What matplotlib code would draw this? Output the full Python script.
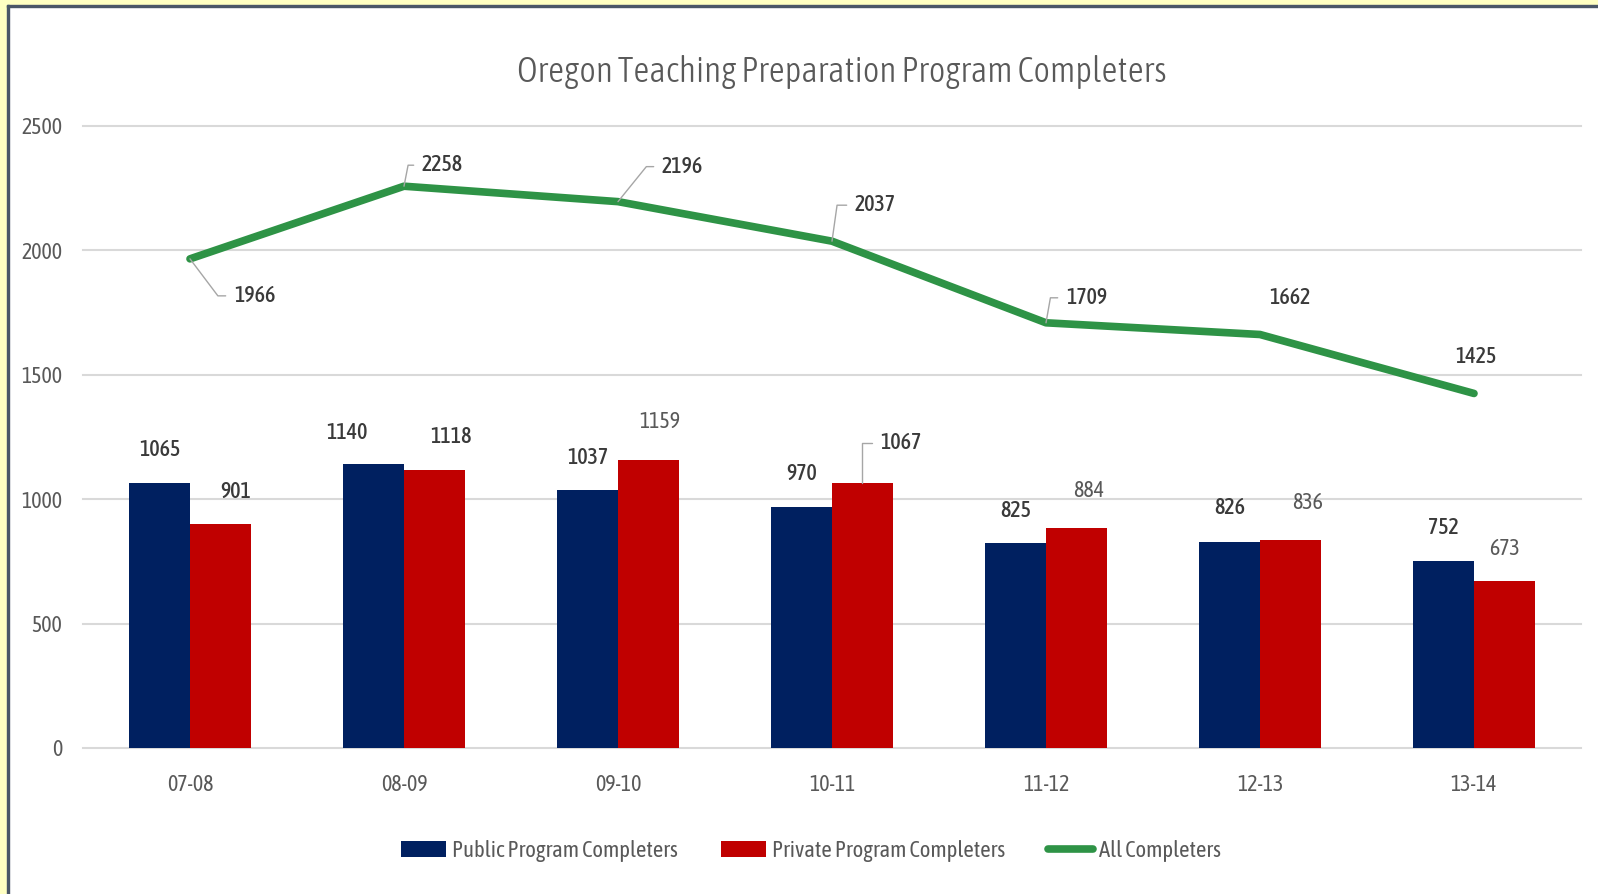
import numpy as np
import matplotlib.pyplot as plt
from matplotlib.patches import Rectangle

years = ['07-08', '08-09', '09-10', '10-11', '11-12', '12-13', '13-14']
public = [1065, 1140, 1037, 970, 825, 826, 752]
private = [901, 1118, 1159, 1067, 884, 836, 673]
all_completers = [1966, 2258, 2196, 2037, 1709, 1662, 1425]
title = 'Oregon Teaching Preparation Program Completers'

plt.rcParams['font.family'] = ['Asap Condensed', 'Carlito', 'DejaVu Sans']

BLUE = '#002060'
RED = '#C00000'
GREEN = '#2E9346'
GRID = '#D9D9D9'
TXT = '#3A3A3A'
TICK = '#595959'
LEADER = '#A6A6A6'

W, H = 1598, 894
fig = plt.figure(figsize=(W / 100, H / 100), dpi=100)
renderer = fig.canvas.get_renderer()


def fit_size(s, width_px, **kw):
    # font size that makes s about width_px wide
    t = fig.text(0, 0, s, fontsize=20, **kw)
    w = t.get_window_extent(renderer).width
    t.remove()
    return 20 * width_px / w


fs = fit_size('2500', 41)
fs_title = fit_size(title, 649, weight=300)
fs_leg = fit_size('Public Program Completers', 226)

ax = fig.add_axes([83 / W, 1 - 748 / H, (1581 - 83) / W, (748 - 126) / H])

x = np.arange(len(years))
bw = 0.285
b1 = ax.bar(x - bw / 2, public, bw, color=BLUE, label='Public Program Completers', zorder=2)
b2 = ax.bar(x + bw / 2, private, bw, color=RED, label='Private Program Completers', zorder=2)
ln, = ax.plot(x, all_completers, color=GREEN, lw=5.5, solid_capstyle='round',
              solid_joinstyle='round', label='All Completers', zorder=3)

# label offsets in pixels (dx, dy to label centre), hand placed
pub_off = [(0, 33), (-27, 31), (0, 32), (0, 33), (0, 32), (0, 34), (0, 33)]
prv_off = [(15, 32), (16, 33), (11, 38), None, (12, 37), (17, 37), (0, 32)]
prv_col = [TXT, TXT, TICK, TXT, TICK, TICK, TICK]

for i, v in enumerate(public):
    dx, dy = pub_off[i]
    ax.annotate(str(v), (x[i] - bw / 2, v), xytext=(dx, dy), textcoords='offset pixels',
                ha='center', va='center', fontsize=fs, color=TXT, weight=500)

for i, v in enumerate(private):
    if prv_off[i] is None:
        # sits off to the right with a leader line
        ax.annotate(str(v), (x[i] + bw / 2, v), xytext=(18, 40), textcoords='offset pixels',
                    ha='left', va='center', fontsize=fs, color=TXT, weight=500,
                    arrowprops=dict(arrowstyle='-', color=LEADER, lw=1, shrinkA=4, shrinkB=0,
                                    relpos=(0, 0.5),
                                    connectionstyle='angle,angleA=0,angleB=90,rad=0'))
        continue
    dx, dy = prv_off[i]
    ax.annotate(str(v), (x[i] + bw / 2, v), xytext=(dx, dy), textcoords='offset pixels',
                ha='center', va='center', fontsize=fs, color=prv_col[i],
                weight=500 if prv_col[i] == TXT else 400)

# line labels: (dx, dy, leader angle or None)
line_off = [(44, -37, -53), (18, 21, 79), (44, 35, 51), (23, 36, 82),
            (20, 25, 80), (30, 36, None), (2, 36, None)]
for i, v in enumerate(all_completers):
    dx, dy, ang = line_off[i]
    if ang is None:
        ax.annotate(str(v), (x[i], v), xytext=(dx, dy), textcoords='offset pixels',
                    ha='center', va='center', fontsize=fs, color=TXT, weight=500)
    else:
        ax.annotate(str(v), (x[i], v), xytext=(dx, dy), textcoords='offset pixels',
                    ha='left', va='center', fontsize=fs, color=TXT, weight=500,
                    arrowprops=dict(arrowstyle='-', color=LEADER, lw=1, shrinkA=4, shrinkB=0,
                                    relpos=(0, 0.5),
                                    connectionstyle=f'angle,angleA=0,angleB={ang},rad=0'))

ax.set_xlim(-0.5, 6.5)
ax.set_ylim(0, 2500)
ax.set_xticks(x)
ax.set_xticklabels(years)
ax.set_yticks(range(0, 2501, 500))
ax.tick_params(length=0, labelsize=fs, colors=TICK)
ax.tick_params(axis='x', pad=19)
ax.tick_params(axis='y', pad=15)
ax.grid(axis='y', color=GRID, lw=1.5)
ax.set_axisbelow(True)
for gl in ax.get_ygridlines():
    gl.set_clip_on(False)
for s in ax.spines.values():
    s.set_visible(False)

fig.text(842 / W, 1 - 72 / H, title, ha='center', va='center',
         fontsize=fs_title, color=TICK, weight=300)

fig.legend([b1, b2, ln], [b1.get_label(), b2.get_label(), ln.get_label()],
           loc='center', bbox_to_anchor=(811 / W, 1 - 851 / H), ncol=3, frameon=False,
           fontsize=fs_leg, handlelength=2.0, handletextpad=0.25, columnspacing=1.9,
           labelcolor=TICK)

# yellow page edge with dark rule
fig.patches.append(Rectangle((0, 0), 7 / W, 1, transform=fig.transFigure,
                             color='#FFFFC2', zorder=0))
fig.patches.append(Rectangle((0, 1 - 5 / H), 1, 5 / H, transform=fig.transFigure,
                             color='#FFFFC2', zorder=0))
fig.patches.append(Rectangle((7 / W, 0), 2 / W, 1 - 5 / H, transform=fig.transFigure,
                             color='#4A5667', zorder=0))
fig.patches.append(Rectangle((7 / W, 1 - 7 / H), 1, 2 / H, transform=fig.transFigure,
                             color='#4A5667', zorder=0))

fig.savefig('out.png', dpi=100)
